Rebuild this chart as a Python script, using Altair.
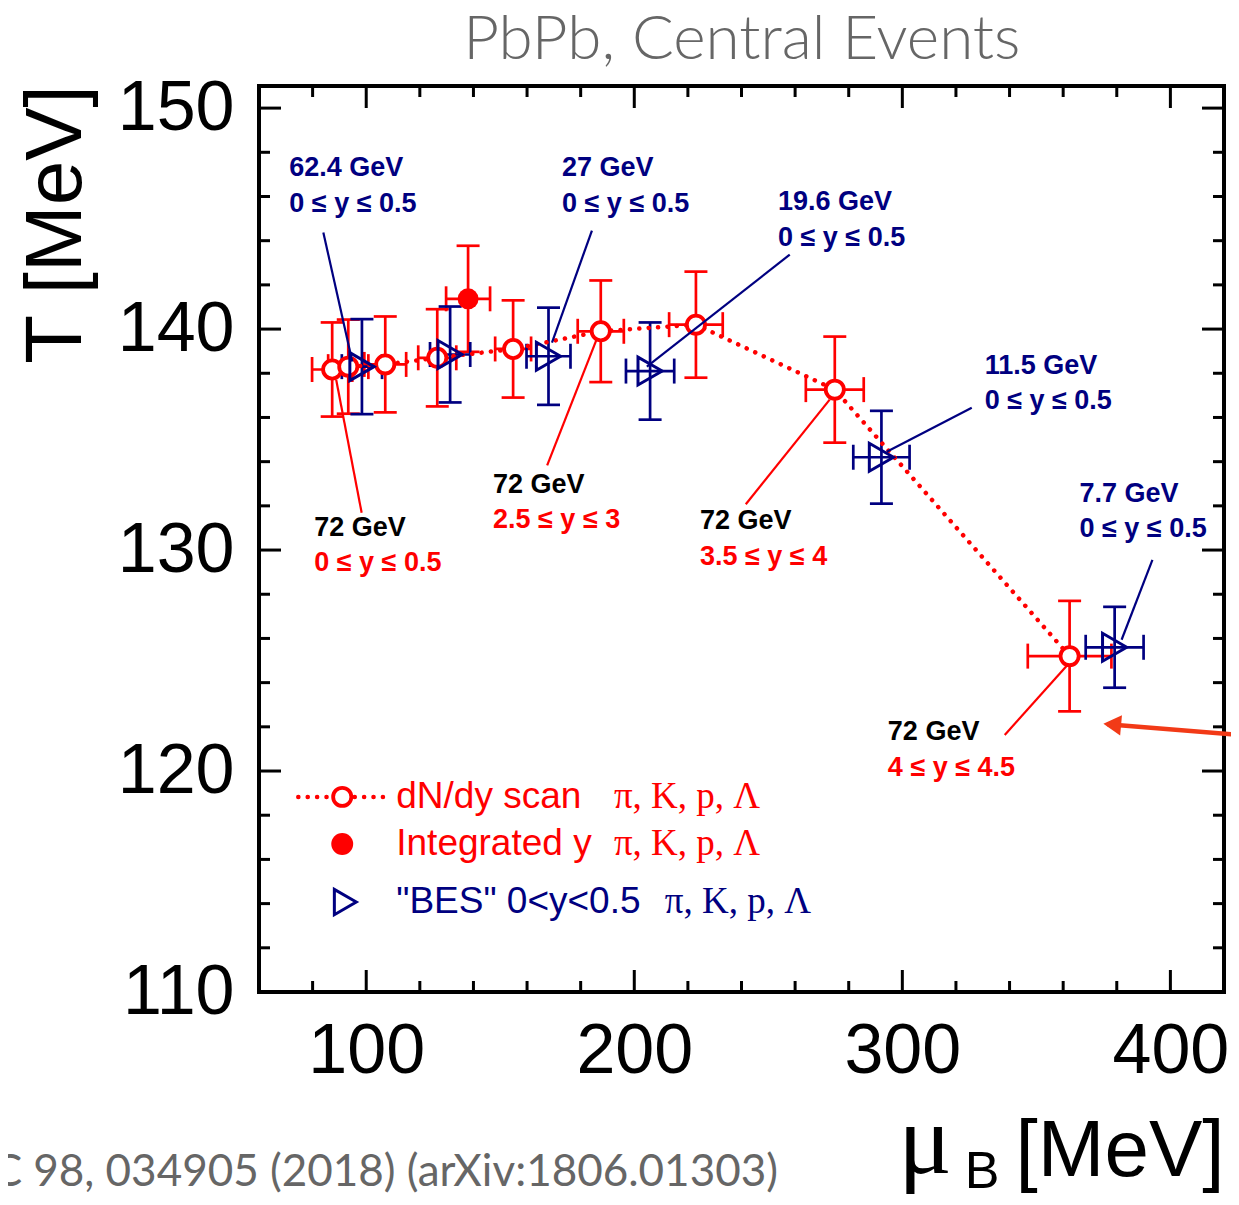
import altair as alt
import pandas as pd

# ---------------- data ----------------
# dN/dy scan, 72 GeV (red open circles, dotted line)
scan_mu = [87.3, 93.3, 107.1, 126.5, 154.8, 187.5, 223.0, 274.8, 362.4]
scan_T = [138.17, 138.3, 138.4, 138.7, 139.1, 139.9, 140.2, 137.26, 125.2]
scan_dmu = [7.5, 7.5, 7.8, 7.1, 6.7, 8.6, 10.0, 10.8, 15.6]
scan_dT = [2.13, 2.13, 2.17, 2.2, 2.2, 2.3, 2.4, 2.4, 2.5]

# integrated y (red filled circle)
int_mu = [138.0]
int_T = [141.37]
int_dmu = [8.2]
int_dT = [2.4]

# "BES" 0<y<0.5 (blue open triangles)
bes_mu = [98.4, 131.3, 168.0, 205.9, 292.2, 379.2]
bes_T = [138.3, 138.85, 138.77, 138.1, 134.2, 125.6]
bes_dmu = [7.5, 7.5, 8.2, 9.0, 10.5, 10.8]
bes_dT = [2.15, 2.17, 2.2, 2.2, 2.1, 1.83]

# axis ticks
x_major = [100, 200, 300, 400]
x_minor = [80, 120, 140, 160, 180, 220, 240, 260, 280, 320, 340, 360, 380]
y_major = [110, 120, 130, 140, 150]
y_minor = [112, 114, 116, 118, 122, 124, 126, 128, 132, 134, 136, 138, 142, 144, 146, 148]

# annotations (data coordinates)
bes_energy = ["62.4 GeV", "27 GeV", "19.6 GeV", "11.5 GeV", "7.7 GeV"]
bes_lab_x = [71.3, 173.05, 253.6, 330.7, 366.1]
bes_lab_y1 = [147.31, 147.31, 145.73, 138.35, 132.55]
bes_lab_y2 = [145.68, 145.68, 144.1, 136.76, 130.96]
bes_range = ["0 ≤ y ≤ 0.5"] * 5
bes_lead = [(84.0, 144.37, 94.8, 138.53), (184.2, 144.46, 169.3, 139.39),
            (258.0, 143.37, 204.7, 138.3), (325.9, 136.44, 294.2, 134.45),
            (393.3, 129.56, 381.8, 125.94)]

scan_energy = ["72 GeV"] * 4
scan_lab_x = [80.6, 147.3, 224.5, 294.6]
scan_lab_y1 = [131.01, 132.96, 131.33, 121.77]
scan_lab_y2 = [129.43, 131.37, 129.7, 120.14]
scan_range = ["0 ≤ y ≤ 0.5", "2.5 ≤ y ≤ 3", "3.5 ≤ y ≤ 4", "4 ≤ y ≤ 4.5"]
scan_lead = [(98.29, 131.69, 88.8, 137.71), (167.5, 133.83, 186.1, 139.58),
             (241.6, 132.07, 272.9, 136.81), (338.2, 121.63, 361.6, 124.8)]

legend_labels = ["dN/dy scan", "Integrated y", "\"BES\" 0<y<0.5"]
legend_species = ["π, K, p, Λ"] * 3
legend_y = [118.83, 116.7, 114.07]

RED = "#ff0000"
BLUE = "#000080"
GRAY = "#666666"
ARROW = "#f23a17"

W, H = 965, 906
xs = alt.Scale(domain=[60, 420], nice=False, zero=False)
ys = alt.Scale(domain=[110, 151], nice=False, zero=False)
xaxis = alt.Axis(values=x_major, ticks=False, tickSize=0, domain=False, grid=False,
                 labelFontSize=70, labelFont="Liberation Sans", labelColor="black",
                 labelPadding=25, title=None, labelOverlap=False, labelFlush=False)
yaxis = alt.Axis(values=y_major, ticks=False, tickSize=0, domain=False, grid=False,
                 labelFontSize=70, labelFont="Liberation Sans", labelColor="black",
                 labelPadding=25, title=None, labelOverlap=False)


def X(f):
    return alt.X(f, type="quantitative", scale=xs, axis=xaxis)


def Y(f):
    return alt.Y(f, type="quantitative", scale=ys, axis=yaxis)


def frame(mu, T, dmu, dT):
    df = pd.DataFrame({"mu": mu, "T": T, "dmu": dmu, "dT": dT})
    df["mu_lo"] = df["mu"] - df["dmu"]
    df["mu_hi"] = df["mu"] + df["dmu"]
    df["T_lo"] = df["T"] - df["dT"]
    df["T_hi"] = df["T"] + df["dT"]
    return df


scan = frame(scan_mu, scan_T, scan_dmu, scan_dT)
integ = frame(int_mu, int_T, int_dmu, int_dT)
bes = frame(bes_mu, bes_T, bes_dmu, bes_dT)


def errorbars(df, color):
    base = alt.Chart(df)
    sw = 2.7
    return [
        base.mark_rule(color=color, strokeWidth=sw).encode(x=X("mu"), y=Y("T_lo"), y2=alt.Y2("T_hi")),
        base.mark_rule(color=color, strokeWidth=sw).encode(x=X("mu_lo"), x2=alt.X2("mu_hi"), y=Y("T")),
        base.mark_rule(color=color, strokeWidth=sw, xOffset=-11.5, x2Offset=11.5).encode(
            x=X("mu"), x2=alt.X2("mu"), y=Y("T_hi")),
        base.mark_rule(color=color, strokeWidth=sw, xOffset=-11.5, x2Offset=11.5).encode(
            x=X("mu"), x2=alt.X2("mu"), y=Y("T_lo")),
        base.mark_rule(color=color, strokeWidth=sw, yOffset=-12.5, y2Offset=12.5).encode(
            x=X("mu_lo"), y=Y("T"), y2=alt.Y2("T")),
        base.mark_rule(color=color, strokeWidth=sw, yOffset=-12.5, y2Offset=12.5).encode(
            x=X("mu_hi"), y=Y("T"), y2=alt.Y2("T")),
    ]


layers = []


# ticks pointing inward on all four sides
def ticks(values, length, side):
    d = pd.DataFrame({"v": values})
    m = alt.Chart(d).mark_rule(color="black", strokeWidth=3)
    if side == "bottom":
        return m.encode(x=X("v"), y=alt.value(H), y2=alt.value(H - length))
    if side == "top":
        return m.encode(x=X("v"), y=alt.value(0), y2=alt.value(length))
    if side == "left":
        return m.encode(y=Y("v"), x=alt.value(0), x2=alt.value(length))
    return m.encode(y=Y("v"), x=alt.value(W), x2=alt.value(W - length))


for side in ["bottom", "top"]:
    layers.append(ticks(x_major, 22, side))
    layers.append(ticks(x_minor, 11, side))
for side in ["left", "right"]:
    layers.append(ticks(y_major, 22, side))
    layers.append(ticks(y_minor, 11, side))

layers += errorbars(scan, RED)
layers += errorbars(integ, RED)
layers += errorbars(bes, BLUE)

# dotted connecting line
layers.append(alt.Chart(scan).mark_line(color=RED, strokeWidth=4.5, strokeDash=[0.1, 9.3],
                                        strokeCap="round").encode(x=X("mu"), y=Y("T")))
# markers
layers.append(alt.Chart(scan).mark_point(shape="circle", size=330, filled=True, fill="white",
                                         stroke=RED, strokeWidth=3.8, opacity=1).encode(x=X("mu"), y=Y("T")))
layers.append(alt.Chart(integ).mark_point(shape="circle", size=440, filled=True, color=RED,
                                          opacity=1).encode(x=X("mu"), y=Y("T")))
layers.append(alt.Chart(bes).mark_point(shape="triangle-right", size=780, filled=False,
                                        stroke=BLUE, strokeWidth=3, opacity=1).encode(x=X("mu"), y=Y("T")))

# leader lines
lead = pd.DataFrame(
    [dict(x1=a, y1=b, x2=c, y2=d, c=BLUE) for a, b, c, d in bes_lead]
    + [dict(x1=a, y1=b, x2=c, y2=d, c=RED) for a, b, c, d in scan_lead])
layers.append(alt.Chart(lead).mark_rule(strokeWidth=2.2).encode(
    x=X("x1"), y=Y("y1"), x2=alt.X2("x2"), y2=alt.Y2("y2"), color=alt.Color("c:N", scale=None)))

# annotation texts
ann = pd.DataFrame(
    [dict(x=x, y=y, t=t, c=BLUE) for x, y, t in zip(bes_lab_x, bes_lab_y1, bes_energy)]
    + [dict(x=x, y=y, t=t, c=BLUE) for x, y, t in zip(bes_lab_x, bes_lab_y2, bes_range)]
    + [dict(x=x, y=y, t=t, c="black") for x, y, t in zip(scan_lab_x, scan_lab_y1, scan_energy)]
    + [dict(x=x, y=y, t=t, c=RED) for x, y, t in zip(scan_lab_x, scan_lab_y2, scan_range)])
layers.append(alt.Chart(ann).mark_text(align="left", baseline="middle", font="Liberation Sans",
                                       fontWeight="bold", fontSize=27).encode(
    x=X("x"), y=Y("y"), text="t:N", color=alt.Color("c:N", scale=None)))

# arrow at the right
arrow = pd.DataFrame({"x1": [376.5], "y1": [122.12], "x2": [426.0], "y2": [121.63]})
layers.append(alt.Chart(arrow).mark_rule(color=ARROW, strokeWidth=4.5).encode(
    x=X("x1"), y=Y("y1"), x2=alt.X2("x2"), y2=alt.Y2("y2")))
layers.append(alt.Chart(pd.DataFrame({"x": [378.3], "y": [122.1]})).mark_point(
    shape="triangle-left", size=420, filled=True, color=ARROW, opacity=1, angle=5).encode(
    x=X("x"), y=Y("y")))

# legend
leg_line = pd.DataFrame({"x": [74.65, 106.3], "y": [legend_y[0]] * 2})
layers.append(alt.Chart(leg_line).mark_line(color=RED, strokeWidth=4.5, strokeDash=[0.1, 9.3],
                                            strokeCap="round").encode(x=X("x"), y=Y("y")))
layers.append(alt.Chart(pd.DataFrame({"x": [91.05], "y": [legend_y[0]]})).mark_point(
    shape="circle", size=330, filled=True, fill="white", stroke=RED, strokeWidth=3.8, opacity=1).encode(
    x=X("x"), y=Y("y")))
layers.append(alt.Chart(pd.DataFrame({"x": [91.05], "y": [legend_y[1]]})).mark_point(
    shape="circle", size=480, filled=True, color=RED, opacity=1).encode(x=X("x"), y=Y("y")))
layers.append(alt.Chart(pd.DataFrame({"x": [92.2], "y": [legend_y[2]]})).mark_point(
    shape="triangle-right", size=640, filled=False, stroke=BLUE, strokeWidth=3, opacity=1).encode(
    x=X("x"), y=Y("y")))
leg_txt = pd.DataFrame({"x": [111.2] * 3, "y": legend_y, "t": legend_labels, "c": [RED, RED, BLUE]})
layers.append(alt.Chart(leg_txt).mark_text(align="left", baseline="middle", font="Liberation Sans",
                                           fontSize=37).encode(
    x=X("x"), y=Y("y"), text="t:N", color=alt.Color("c:N", scale=None)))
leg_sp = pd.DataFrame({"x": [192.4, 192.4, 211.4], "y": legend_y, "t": legend_species,
                       "c": [RED, RED, BLUE]})
layers.append(alt.Chart(leg_sp).mark_text(align="left", baseline="middle", font="Liberation Serif",
                                          fontSize=37).encode(
    x=X("x"), y=Y("y"), text="t:N", color=alt.Color("c:N", scale=None)))

# titles and other text outside the frame
layers.append(alt.Chart(pd.DataFrame({"x": [240.1], "y": [153.1], "t": ["PbPb, Central Events"]})).mark_text(
    align="center", baseline="middle", font="Lato", fontWeight=300, fontSize=62, color=GRAY).encode(
    x=X("x"), y=Y("y"), text="t:N"))
layers.append(alt.Chart(pd.DataFrame({"x": [-15.2], "y": [144.73], "t": ["T [MeV]"]})).mark_text(
    align="center", baseline="middle", font="Liberation Sans", fontSize=80, angle=270, color="black").encode(
    x=X("x"), y=Y("y"), text="t:N"))
layers.append(alt.Chart(pd.DataFrame({"x": [420.2], "y": [101.66], "t": ["[MeV]"]})).mark_text(
    align="right", baseline="alphabetic", font="Liberation Sans", fontSize=80, color="black").encode(
    x=X("x"), y=Y("y"), text="t:N"))
layers.append(alt.Chart(pd.DataFrame({"x": [298.5], "y": [101.8], "t": ["μ"]})).mark_text(
    align="left", baseline="alphabetic", font="Liberation Serif", fontSize=100, color="black").encode(
    x=X("x"), y=Y("y"), text="t:N"))
layers.append(alt.Chart(pd.DataFrame({"x": [323.3], "y": [101.15], "t": ["B"]})).mark_text(
    align="left", baseline="alphabetic", font="Liberation Sans", fontSize=52, color="black").encode(
    x=X("x"), y=Y("y"), text="t:N"))
layers.append(alt.Chart(pd.DataFrame({"x": [253.6], "y": [101.8],
                                      "t": ["PRC 98, 034905 (2018) (arXiv:1806.01303)"]})).mark_text(
    align="right", baseline="middle", font="Lato", fontSize=44, color=GRAY).encode(
    x=X("x"), y=Y("y"), text="t:N"))

chart = alt.layer(*layers).properties(
    width=W, height=H,
    autosize=alt.AutoSizeParams(type="none"),
    padding={"left": 251, "top": 78, "right": 7, "bottom": 203},
    background="white",
).configure_view(stroke="black", strokeWidth=4)

chart.save("out.html", embed_options={"renderer": "svg", "actions": False})
